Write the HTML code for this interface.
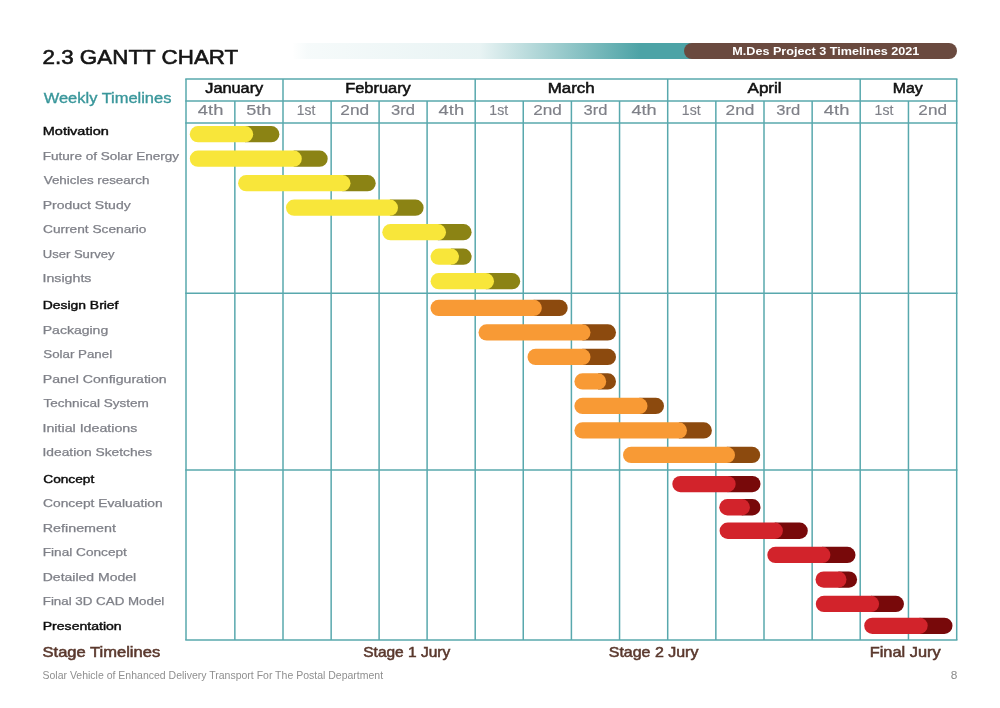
<!DOCTYPE html>
<html lang="en"><head><meta charset="utf-8"><title>2.3 Gantt Chart</title>
<style>
html,body{margin:0;padding:0;background:#fff;}
body{width:1000px;height:708px;position:relative;overflow:hidden;font-family:"Liberation Sans",sans-serif;}
.t{position:absolute;white-space:nowrap;transform-origin:0 0;line-height:1;margin:0;}
#hdr{position:absolute;left:292px;top:43px;width:400px;height:16px;background:linear-gradient(90deg,rgba(77,163,166,0) 0%,rgba(77,163,166,.05) 4%,rgba(77,163,166,.13) 47%,#4da3a6 87%,#4da3a6 100%);}
#pill{position:absolute;left:684px;top:42.8px;width:273.3px;height:16.3px;border-radius:8.2px;background:#6a4a3f;}
svg{position:absolute;left:0;top:0;}
</style></head><body>
<div id="hdr"></div><div id="pill"></div>
<svg width="1000" height="708" viewBox="0 0 1000 708">
<g stroke="#58a8ad" stroke-width="1.5" fill="none">
<line x1="185.25" y1="79.05" x2="957.45" y2="79.05"/>
<line x1="185.25" y1="101.1" x2="957.45" y2="101.1"/>
<line x1="185.25" y1="123.1" x2="957.45" y2="123.1"/>
<line x1="185.25" y1="293.3" x2="957.45" y2="293.3"/>
<line x1="185.25" y1="470.05" x2="957.45" y2="470.05"/>
<line x1="185.25" y1="640.05" x2="957.45" y2="640.05"/>
<line x1="186.00" y1="79.05" x2="186.00" y2="640.05"/>
<line x1="234.85" y1="101.1" x2="234.85" y2="640.05"/>
<line x1="283.00" y1="79.05" x2="283.00" y2="640.05"/>
<line x1="331.15" y1="101.1" x2="331.15" y2="640.05"/>
<line x1="379.10" y1="101.1" x2="379.10" y2="640.05"/>
<line x1="427.10" y1="101.1" x2="427.10" y2="640.05"/>
<line x1="475.20" y1="79.05" x2="475.20" y2="640.05"/>
<line x1="523.25" y1="101.1" x2="523.25" y2="640.05"/>
<line x1="571.40" y1="101.1" x2="571.40" y2="640.05"/>
<line x1="619.55" y1="101.1" x2="619.55" y2="640.05"/>
<line x1="667.70" y1="79.05" x2="667.70" y2="640.05"/>
<line x1="715.85" y1="101.1" x2="715.85" y2="640.05"/>
<line x1="764.00" y1="101.1" x2="764.00" y2="640.05"/>
<line x1="812.15" y1="101.1" x2="812.15" y2="640.05"/>
<line x1="860.20" y1="79.05" x2="860.20" y2="640.05"/>
<line x1="908.45" y1="101.1" x2="908.45" y2="640.05"/>
<line x1="956.70" y1="79.05" x2="956.70" y2="640.05"/>
</g>
<path d="M245.05 126.0H271.25A8.15 8.15 0 0 1 271.25 142.30H245.05Z" fill="#8b8314"/>
<rect x="189.8" y="126.0" width="63.4" height="16.3" rx="8.15" fill="#f8e63a"/>
<path d="M293.65 150.5H319.55A8.15 8.15 0 0 1 319.55 166.80H293.65Z" fill="#8b8314"/>
<rect x="189.8" y="150.5" width="112.0" height="16.3" rx="8.15" fill="#f8e63a"/>
<path d="M342.35 175.0H367.55A8.15 8.15 0 0 1 367.55 191.30H342.35Z" fill="#8b8314"/>
<rect x="238.1" y="175.0" width="112.4" height="16.3" rx="8.15" fill="#f8e63a"/>
<path d="M389.85 199.5H415.45A8.15 8.15 0 0 1 415.45 215.80H389.85Z" fill="#8b8314"/>
<rect x="286.0" y="199.5" width="112.0" height="16.3" rx="8.15" fill="#f8e63a"/>
<path d="M437.85 224.0H463.45A8.15 8.15 0 0 1 463.45 240.30H437.85Z" fill="#8b8314"/>
<rect x="382.3" y="224.0" width="63.7" height="16.3" rx="8.15" fill="#f8e63a"/>
<path d="M450.85 248.5H463.45A8.15 8.15 0 0 1 463.45 264.80H450.85Z" fill="#8b8314"/>
<rect x="430.6" y="248.5" width="28.4" height="16.3" rx="8.15" fill="#f8e63a"/>
<path d="M485.85 273.0H512.05A8.15 8.15 0 0 1 512.05 289.30H485.85Z" fill="#8b8314"/>
<rect x="430.6" y="273.0" width="63.4" height="16.3" rx="8.15" fill="#f8e63a"/>
<path d="M533.65 299.8H559.55A8.15 8.15 0 0 1 559.55 316.10H533.65Z" fill="#8c4a0e"/>
<rect x="430.5" y="299.8" width="111.3" height="16.3" rx="8.15" fill="#f89a35"/>
<path d="M582.35 324.3H607.85A8.15 8.15 0 0 1 607.85 340.60H582.35Z" fill="#8c4a0e"/>
<rect x="478.5" y="324.3" width="112.0" height="16.3" rx="8.15" fill="#f89a35"/>
<path d="M582.35 348.8H607.85A8.15 8.15 0 0 1 607.85 365.10H582.35Z" fill="#8c4a0e"/>
<rect x="527.5" y="348.8" width="63.0" height="16.3" rx="8.15" fill="#f89a35"/>
<path d="M598.05 373.3H607.85A8.15 8.15 0 0 1 607.85 389.60H598.05Z" fill="#8c4a0e"/>
<rect x="574.4" y="373.3" width="31.8" height="16.3" rx="8.15" fill="#f89a35"/>
<path d="M639.35 397.8H655.85A8.15 8.15 0 0 1 655.85 414.10H639.35Z" fill="#8c4a0e"/>
<rect x="574.4" y="397.8" width="73.1" height="16.3" rx="8.15" fill="#f89a35"/>
<path d="M678.85 422.3H703.75A8.15 8.15 0 0 1 703.75 438.60H678.85Z" fill="#8c4a0e"/>
<rect x="574.4" y="422.3" width="112.6" height="16.3" rx="8.15" fill="#f89a35"/>
<path d="M726.85 446.8H752.05A8.15 8.15 0 0 1 752.05 463.10H726.85Z" fill="#8c4a0e"/>
<rect x="623.0" y="446.8" width="112.0" height="16.3" rx="8.15" fill="#f89a35"/>
<path d="M727.55 475.9H752.35A8.15 8.15 0 0 1 752.35 492.20H727.55Z" fill="#78090a"/>
<rect x="672.3" y="475.9" width="63.4" height="16.3" rx="8.15" fill="#d2232b"/>
<path d="M741.75 499.1H752.35A8.15 8.15 0 0 1 752.35 515.40H741.75Z" fill="#78090a"/>
<rect x="719.3" y="499.1" width="30.6" height="16.3" rx="8.15" fill="#d2232b"/>
<path d="M774.75 522.6H799.65A8.15 8.15 0 0 1 799.65 538.90H774.75Z" fill="#78090a"/>
<rect x="719.6" y="522.6" width="63.3" height="16.3" rx="8.15" fill="#d2232b"/>
<path d="M822.25 546.8H847.35A8.15 8.15 0 0 1 847.35 563.10H822.25Z" fill="#78090a"/>
<rect x="767.3" y="546.8" width="63.1" height="16.3" rx="8.15" fill="#d2232b"/>
<path d="M838.35 571.4H848.95A8.15 8.15 0 0 1 848.95 587.70H838.35Z" fill="#78090a"/>
<rect x="815.5" y="571.4" width="31.0" height="16.3" rx="8.15" fill="#d2232b"/>
<path d="M870.95 595.8H895.85A8.15 8.15 0 0 1 895.85 612.10H870.95Z" fill="#78090a"/>
<rect x="815.8" y="595.8" width="63.3" height="16.3" rx="8.15" fill="#d2232b"/>
<path d="M919.55 617.7H944.35A8.15 8.15 0 0 1 944.35 634.00H919.55Z" fill="#78090a"/>
<rect x="864.2" y="617.7" width="63.5" height="16.3" rx="8.15" fill="#d2232b"/>
</svg>
<div class="t" id="t0" style="left:0;top:0;font-size:20.8px;font-weight:400;color:#151515;transform:translate(42.50px,47.40px) scaleX(1.0768);-webkit-text-stroke:0.6px #151515;">2.3 GANTT CHART</div>
<div class="t" id="t1" style="left:0;top:0;font-size:11.2px;font-weight:700;color:#ffffff;transform:translate(732.25px,45.70px) scaleX(1.1281);">M.Des Project 3 Timelines 2021</div>
<div class="t" id="t2" style="left:0;top:0;font-size:14.2px;font-weight:400;color:#3a979b;transform:translate(43.75px,91.20px) scaleX(1.1591);-webkit-text-stroke:0.35px #3a979b;">Weekly Timelines</div>
<div class="t" id="t3" style="left:0;top:0;font-size:13.8px;font-weight:400;color:#111111;transform:translate(205.25px,81.90px) scaleX(1.1818);-webkit-text-stroke:0.5px #111111;">January</div>
<div class="t" id="t4" style="left:0;top:0;font-size:13.8px;font-weight:400;color:#111111;transform:translate(345.25px,81.90px) scaleX(1.1872);-webkit-text-stroke:0.5px #111111;">February</div>
<div class="t" id="t5" style="left:0;top:0;font-size:13.8px;font-weight:400;color:#111111;transform:translate(547.75px,81.90px) scaleX(1.2245);-webkit-text-stroke:0.5px #111111;">March</div>
<div class="t" id="t6" style="left:0;top:0;font-size:13.8px;font-weight:400;color:#111111;transform:translate(747.50px,81.90px) scaleX(1.2367);-webkit-text-stroke:0.5px #111111;">April</div>
<div class="t" id="t7" style="left:0;top:0;font-size:13.8px;font-weight:400;color:#111111;transform:translate(892.75px,81.90px) scaleX(1.1510);-webkit-text-stroke:0.5px #111111;">May</div>
<div class="t" id="t8" style="left:0;top:0;font-size:13.8px;font-weight:400;color:#7f8088;transform:translate(197.87px,103.90px) scaleX(1.3289);-webkit-text-stroke:0.15px #7f8088;">4th</div>
<div class="t" id="t9" style="left:0;top:0;font-size:13.8px;font-weight:400;color:#7f8088;transform:translate(246.13px,103.90px) scaleX(1.3112);-webkit-text-stroke:0.15px #7f8088;">5th</div>
<div class="t" id="t10" style="left:0;top:0;font-size:13.8px;font-weight:400;color:#7f8088;transform:translate(296.87px,103.90px) scaleX(1.0031);-webkit-text-stroke:0.15px #7f8088;">1st</div>
<div class="t" id="t11" style="left:0;top:0;font-size:13.8px;font-weight:400;color:#7f8088;transform:translate(340.37px,103.90px) scaleX(1.2530);-webkit-text-stroke:0.15px #7f8088;">2nd</div>
<div class="t" id="t12" style="left:0;top:0;font-size:13.8px;font-weight:400;color:#7f8088;transform:translate(391.12px,103.90px) scaleX(1.2001);-webkit-text-stroke:0.15px #7f8088;">3rd</div>
<div class="t" id="t13" style="left:0;top:0;font-size:13.8px;font-weight:400;color:#7f8088;transform:translate(438.62px,103.90px) scaleX(1.3289);-webkit-text-stroke:0.15px #7f8088;">4th</div>
<div class="t" id="t14" style="left:0;top:0;font-size:13.8px;font-weight:400;color:#7f8088;transform:translate(489.37px,103.90px) scaleX(1.0172);-webkit-text-stroke:0.15px #7f8088;">1st</div>
<div class="t" id="t15" style="left:0;top:0;font-size:13.8px;font-weight:400;color:#7f8088;transform:translate(533.13px,103.90px) scaleX(1.2443);-webkit-text-stroke:0.15px #7f8088;">2nd</div>
<div class="t" id="t16" style="left:0;top:0;font-size:13.8px;font-weight:400;color:#7f8088;transform:translate(583.62px,103.90px) scaleX(1.2001);-webkit-text-stroke:0.15px #7f8088;">3rd</div>
<div class="t" id="t17" style="left:0;top:0;font-size:13.8px;font-weight:400;color:#7f8088;transform:translate(631.38px,103.90px) scaleX(1.3152);-webkit-text-stroke:0.15px #7f8088;">4th</div>
<div class="t" id="t18" style="left:0;top:0;font-size:13.8px;font-weight:400;color:#7f8088;transform:translate(681.87px,103.90px) scaleX(1.0176);-webkit-text-stroke:0.15px #7f8088;">1st</div>
<div class="t" id="t19" style="left:0;top:0;font-size:13.8px;font-weight:400;color:#7f8088;transform:translate(725.62px,103.90px) scaleX(1.2530);-webkit-text-stroke:0.15px #7f8088;">2nd</div>
<div class="t" id="t20" style="left:0;top:0;font-size:13.8px;font-weight:400;color:#7f8088;transform:translate(776.37px,103.90px) scaleX(1.2001);-webkit-text-stroke:0.15px #7f8088;">3rd</div>
<div class="t" id="t21" style="left:0;top:0;font-size:13.8px;font-weight:400;color:#7f8088;transform:translate(823.87px,103.90px) scaleX(1.3289);-webkit-text-stroke:0.15px #7f8088;">4th</div>
<div class="t" id="t22" style="left:0;top:0;font-size:13.8px;font-weight:400;color:#7f8088;transform:translate(874.62px,103.90px) scaleX(1.0172);-webkit-text-stroke:0.15px #7f8088;">1st</div>
<div class="t" id="t23" style="left:0;top:0;font-size:13.8px;font-weight:400;color:#7f8088;transform:translate(918.37px,103.90px) scaleX(1.2414);-webkit-text-stroke:0.15px #7f8088;">2nd</div>
<div class="t" id="t24" style="left:0;top:0;font-size:11.1px;font-weight:400;color:#0c0c0c;transform:translate(42.75px,125.75px) scaleX(1.3061);-webkit-text-stroke:0.4px #0c0c0c;">Motivation</div>
<div class="t" id="t25" style="left:0;top:0;font-size:11.1px;font-weight:400;color:#7f8088;transform:translate(42.75px,150.75px) scaleX(1.2217);-webkit-text-stroke:0.25px #7f8088;">Future of Solar Energy</div>
<div class="t" id="t26" style="left:0;top:0;font-size:11.1px;font-weight:400;color:#7f8088;transform:translate(43.75px,174.75px) scaleX(1.2058);-webkit-text-stroke:0.25px #7f8088;">Vehicles research</div>
<div class="t" id="t27" style="left:0;top:0;font-size:11.1px;font-weight:400;color:#7f8088;transform:translate(42.75px,199.75px) scaleX(1.2616);-webkit-text-stroke:0.25px #7f8088;">Product Study</div>
<div class="t" id="t28" style="left:0;top:0;font-size:11.1px;font-weight:400;color:#7f8088;transform:translate(43.00px,223.75px) scaleX(1.2337);-webkit-text-stroke:0.25px #7f8088;">Current Scenario</div>
<div class="t" id="t29" style="left:0;top:0;font-size:11.1px;font-weight:400;color:#7f8088;transform:translate(42.75px,248.75px) scaleX(1.1760);-webkit-text-stroke:0.25px #7f8088;">User Survey</div>
<div class="t" id="t30" style="left:0;top:0;font-size:11.1px;font-weight:400;color:#7f8088;transform:translate(42.50px,272.75px) scaleX(1.2811);-webkit-text-stroke:0.25px #7f8088;">Insights</div>
<div class="t" id="t31" style="left:0;top:0;font-size:11.1px;font-weight:400;color:#0c0c0c;transform:translate(42.75px,299.75px) scaleX(1.2525);-webkit-text-stroke:0.4px #0c0c0c;">Design Brief</div>
<div class="t" id="t32" style="left:0;top:0;font-size:11.1px;font-weight:400;color:#7f8088;transform:translate(42.75px,324.75px) scaleX(1.2627);-webkit-text-stroke:0.25px #7f8088;">Packaging</div>
<div class="t" id="t33" style="left:0;top:0;font-size:11.1px;font-weight:400;color:#7f8088;transform:translate(43.25px,348.75px) scaleX(1.2009);-webkit-text-stroke:0.25px #7f8088;">Solar Panel</div>
<div class="t" id="t34" style="left:0;top:0;font-size:11.1px;font-weight:400;color:#7f8088;transform:translate(42.75px,373.75px) scaleX(1.2719);-webkit-text-stroke:0.25px #7f8088;">Panel Configuration</div>
<div class="t" id="t35" style="left:0;top:0;font-size:11.1px;font-weight:400;color:#7f8088;transform:translate(43.50px,397.75px) scaleX(1.2211);-webkit-text-stroke:0.25px #7f8088;">Technical System</div>
<div class="t" id="t36" style="left:0;top:0;font-size:11.1px;font-weight:400;color:#7f8088;transform:translate(42.50px,422.75px) scaleX(1.2818);-webkit-text-stroke:0.25px #7f8088;">Initial Ideations</div>
<div class="t" id="t37" style="left:0;top:0;font-size:11.1px;font-weight:400;color:#7f8088;transform:translate(42.50px,446.75px) scaleX(1.2437);-webkit-text-stroke:0.25px #7f8088;">Ideation Sketches</div>
<div class="t" id="t38" style="left:0;top:0;font-size:11.1px;font-weight:400;color:#0c0c0c;transform:translate(43.25px,473.75px) scaleX(1.2329);-webkit-text-stroke:0.4px #0c0c0c;">Concept</div>
<div class="t" id="t39" style="left:0;top:0;font-size:11.1px;font-weight:400;color:#7f8088;transform:translate(43.00px,497.75px) scaleX(1.2441);-webkit-text-stroke:0.25px #7f8088;">Concept Evaluation</div>
<div class="t" id="t40" style="left:0;top:0;font-size:11.1px;font-weight:400;color:#7f8088;transform:translate(42.75px,522.75px) scaleX(1.2893);-webkit-text-stroke:0.25px #7f8088;">Refinement</div>
<div class="t" id="t41" style="left:0;top:0;font-size:11.1px;font-weight:400;color:#7f8088;transform:translate(42.75px,546.75px) scaleX(1.2289);-webkit-text-stroke:0.25px #7f8088;">Final Concept</div>
<div class="t" id="t42" style="left:0;top:0;font-size:11.1px;font-weight:400;color:#7f8088;transform:translate(42.75px,571.75px) scaleX(1.2614);-webkit-text-stroke:0.25px #7f8088;">Detailed Model</div>
<div class="t" id="t43" style="left:0;top:0;font-size:11.1px;font-weight:400;color:#7f8088;transform:translate(42.75px,595.75px) scaleX(1.2020);-webkit-text-stroke:0.25px #7f8088;">Final 3D CAD Model</div>
<div class="t" id="t44" style="left:0;top:0;font-size:11.1px;font-weight:400;color:#0c0c0c;transform:translate(42.75px,620.75px) scaleX(1.2669);-webkit-text-stroke:0.4px #0c0c0c;">Presentation</div>
<div class="t" id="t45" style="left:0;top:0;font-size:13.9px;font-weight:400;color:#5a382d;transform:translate(42.50px,646.35px) scaleX(1.1908);-webkit-text-stroke:0.5px #5a382d;">Stage Timelines</div>
<div class="t" id="t46" style="left:0;top:0;font-size:13.9px;font-weight:400;color:#5a382d;transform:translate(363.25px,646.35px) scaleX(1.1151);-webkit-text-stroke:0.5px #5a382d;">Stage 1 Jury</div>
<div class="t" id="t47" style="left:0;top:0;font-size:13.9px;font-weight:400;color:#5a382d;transform:translate(608.75px,646.35px) scaleX(1.1494);-webkit-text-stroke:0.5px #5a382d;">Stage 2 Jury</div>
<div class="t" id="t48" style="left:0;top:0;font-size:13.9px;font-weight:400;color:#5a382d;transform:translate(869.75px,646.35px) scaleX(1.1765);-webkit-text-stroke:0.5px #5a382d;">Final Jury</div>
<div class="t" id="t49" style="left:0;top:0;font-size:10.3px;font-weight:400;color:#8f8f8f;transform:translate(42.50px,670.65px) scaleX(1.0195);">Solar Vehicle of Enhanced Delivery Transport For The Postal Department</div>
<div class="t" id="t50" style="left:0;top:0;font-size:10.0px;font-weight:400;color:#8a8a8a;transform:translate(950.75px,670.80px) scaleX(1.1903);">8</div>
</body></html>
